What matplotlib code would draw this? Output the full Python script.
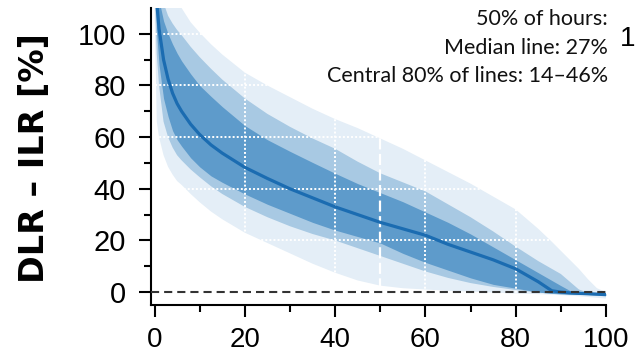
import matplotlib
matplotlib.use("Agg")
import matplotlib.pyplot as plt
import numpy as np

# Share of hours (%) at which each curve is sampled
hours = [0, 0.5, 1, 2, 3, 4, 5, 6, 8, 10, 12.5, 15, 20, 25, 30, 35, 40, 45,
         50, 55, 60, 65, 70, 75, 80, 85, 88, 90, 92, 94, 96, 98, 100]

# Duration curves of DLR - ILR [%]: envelope bands and the median line
outer_low = [110, 66, 60, 53, 48.5, 45.5, 43, 41.5, 38, 34.8, 31.2, 28.2, 23, 19, 15, 11, 7.5, 4.5,
             2.5, 1.5, 1, 0.5, 0.2, -0.2, -0.5, -0.8, -1, -1.2, -1.4, -1.6, -1.9, -2.2, -2.5]
p10 = [120, 92, 80, 66, 60, 56, 53, 51, 47.5, 44.5, 41, 38, 33, 29, 25.5, 22.5, 20, 17,
       14, 11, 8, 5.5, 3.5, 2, 0.8, -0.2, -0.6, -0.8, -1, -1.1, -1.2, -1.4, -1.5]
p25 = [125, 100, 88, 75, 68, 62.5, 59, 56.5, 52, 48.5, 45, 42.5, 38, 34, 30.5, 27, 24, 21.5,
       19, 15, 11.5, 8.5, 5.5, 3, 1.5, 0, -0.5, -0.7, -0.8, -0.9, -1, -1.1, -1.2]
median = [125, 112, 102, 90, 82.5, 77, 73, 70, 65, 61, 57, 53.8, 48.3, 44, 40, 36.5, 33, 30,
          27, 24.5, 22, 18.5, 15.5, 12.5, 9, 4, 0.5, 0, -0.3, -0.5, -0.6, -0.8, -1]
p75 = [130, 120, 113, 105, 100, 96, 92.5, 89.5, 84.5, 80, 75.8, 71.8, 64.5, 59, 54.5, 50.2, 46, 42,
       38.5, 35, 31, 27, 22.5, 17.5, 12.5, 7.5, 4.5, 2.5, 0.6, -0.2, -0.4, -0.5, -0.7]
p90 = [140, 130, 122, 112, 107, 104, 101.5, 99.5, 95, 91, 86.5, 82.3, 75, 69, 64, 59.5, 55.5, 50.5,
       46, 42.5, 39, 34, 29, 23.5, 17.6, 12, 9, 7, 4, 1, -0.2, -0.5, -0.8]
outer_high = [160, 150, 142, 130, 122, 117, 113, 110, 104.5, 100.5, 96, 92, 85, 80, 75.5, 71, 67, 63.5,
              59.5, 55.5, 51, 46.5, 42, 37, 32, 24.5, 19.5, 16, 12.5, 9, 5, 1.5, 0]

annotation_lines = ["50% of hours:", "Median line: 27%", "Central 80% of lines: 14\u201346%"]
x_ticks = [0, 20, 40, 60, 80, 100]
y_ticks = [0, 20, 40, 60, 80, 100]

c_light = "#e4eef7"
c_mid = "#a8c9e3"
c_dark = "#5e9bcb"
c_line = "#1b6cb1"

W, H = 636, 354
fig = plt.figure(figsize=(W / 100, H / 100), dpi=100)
ax = fig.add_axes([151 / W, (H - 305) / H, 455 / W, 297 / H])

ax.fill_between(hours, outer_low, outer_high, color=c_light, lw=0, zorder=1)
ax.fill_between(hours, p10, p90, color=c_mid, lw=0, zorder=1.1)
ax.fill_between(hours, p25, p75, color=c_dark, lw=0, zorder=1.2)

# white guide lines (only visible over the shaded bands)
for yv in [20, 40, 60, 80, 100]:
    ax.axhline(yv, color="white", lw=1.4, ls=(0, (1, 1.1)), zorder=2)
for xv in [20, 40, 60, 80]:
    ax.axvline(xv, color="white", lw=1.4, ls=(0, (1, 1.1)), zorder=2)
ax.axvline(50, color="white", lw=1.6, ls=(0, (5, 2)), zorder=2.1)

ax.plot(hours, median, color=c_line, lw=2.3, zorder=3, solid_capstyle="butt")
ax.axhline(0, color="#333333", lw=1.5, ls=(0, (3.9, 2.4)), zorder=4)

ax.set_xlim(-0.78, 100)
ax.set_ylim(-5, 110)
ax.set_xticks(x_ticks)
ax.set_yticks(y_ticks)
ax.set_xticks(np.arange(10, 100, 20), minor=True)
ax.set_yticks(np.arange(10, 100, 20), minor=True)
ax.set_xticklabels([str(v) for v in x_ticks], fontfamily="Liberation Sans", fontsize=20)
ax.set_yticklabels([str(v) for v in y_ticks], fontfamily="Liberation Sans", fontsize=21)
ax.tick_params(axis="both", which="major", length=8.5, width=1.5, direction="out")
ax.tick_params(axis="both", which="minor", length=5, width=1.5, direction="out")
ax.tick_params(axis="x", which="major", pad=7.5)
ax.tick_params(axis="y", which="major", pad=9.5)
for s in ["top", "right"]:
    ax.spines[s].set_visible(False)
for s in ["left", "bottom"]:
    ax.spines[s].set_linewidth(1.5)

fig.text(35 / W, (H - 158) / H, "DLR \u2013 ILR [%]", rotation=90, ha="center", va="center",
         fontfamily="DejaVu Sans", fontweight="bold", fontsize=24)

for txt, base in zip(annotation_lines, [25, 53.5, 82]):
    fig.text(608 / W, (H - base) / H, txt, ha="right", va="baseline",
             fontfamily="Lato", fontsize=15.5, color="#111111")

fig.text(635 / W, (H - 46) / H, "1", ha="right", va="baseline",
         fontfamily="Liberation Sans", fontsize=20)

fig.savefig("out.png", dpi=100)
